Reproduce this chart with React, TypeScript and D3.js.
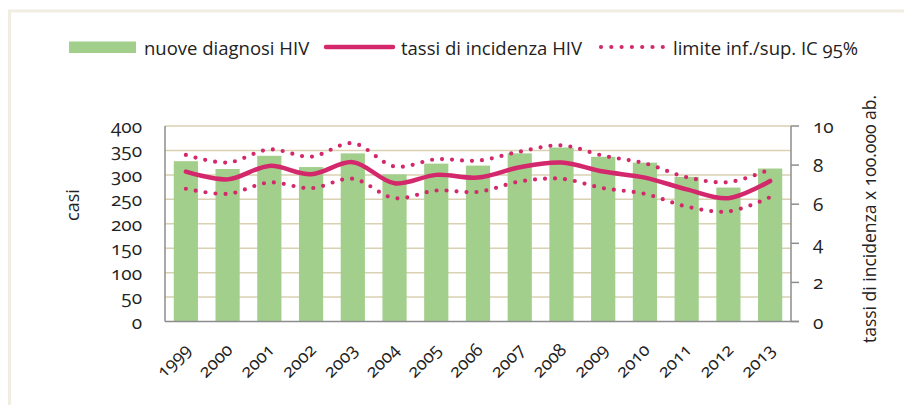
import React, { useEffect, useRef } from "react";
import * as d3 from "d3";

const years = ["1999", "2000", "2001", "2002", "2003", "2004", "2005", "2006", "2007", "2008", "2009", "2010", "2011", "2012", "2013"];
const newCases = [328, 312, 339, 316, 344, 301, 323, 319, 344, 356, 337, 325, 296, 274, 313];
const incidence = [7.67, 7.27, 7.96, 7.53, 8.15, 7.07, 7.5, 7.36, 7.89, 8.13, 7.67, 7.36, 6.76, 6.31, 7.19];
const upperCI = [8.52, 8.13, 8.8, 8.43, 9.12, 7.93, 8.3, 8.23, 8.69, 9.01, 8.48, 8.09, 7.38, 7.13, 7.78];
const lowerCI = [6.79, 6.53, 7.11, 6.82, 7.3, 6.31, 6.7, 6.63, 7.16, 7.3, 6.82, 6.53, 5.88, 5.63, 6.36];
const leftTicks = [0, 50, 100, 150, 200, 250, 300, 350, 400];
const rightTicks = [0, 2, 4, 6, 8, 10];

const GREEN = "#a2d08c";
const PINK = "#d3286b";
const GRID = "#d9d1b1";
const AXIS = "#8d8d8d";
const FONT = "'Open Sans', sans-serif";

export default function App() {
  const svgRef = useRef<SVGSVGElement>(null);

  useEffect(() => {
    if (!svgRef.current) return;
    const svg = d3.select(svgRef.current);
    svg.selectAll("*").remove();

    const left = 165;
    const right = 791;
    const top = 126;
    const bottom = 321.5;

    // outer frame
    svg
      .append("path")
      .attr("d", `M9.5,405 V11 H904`)
      .attr("fill", "none")
      .attr("stroke", "#f1ede2")
      .attr("stroke-width", 3);

    const x = d3.scaleBand().domain(years).range([left, right]).paddingInner(0.42).paddingOuter(0.21);
    const yL = d3.scaleLinear().domain([0, 400]).range([bottom, top]);
    const yR = d3.scaleLinear().domain([0, 10]).range([bottom, top]);
    const cx = (i: number) => (x(years[i]) as number) + x.bandwidth() / 2;

    // grid lines
    svg
      .append("g")
      .selectAll("line")
      .data(leftTicks.filter((d) => d > 0))
      .enter()
      .append("line")
      .attr("x1", left)
      .attr("x2", right)
      .attr("y1", (d) => yL(d))
      .attr("y2", (d) => yL(d))
      .attr("stroke", GRID)
      .attr("stroke-width", 1.5);

    // bars
    svg
      .append("g")
      .selectAll("rect")
      .data(newCases)
      .enter()
      .append("rect")
      .attr("x", (_, i) => x(years[i]) as number)
      .attr("width", x.bandwidth())
      .attr("y", (d) => yL(d))
      .attr("height", (d) => bottom - yL(d))
      .attr("fill", GREEN);

    // axes lines
    svg.append("line").attr("x1", left).attr("x2", left).attr("y1", top).attr("y2", bottom).attr("stroke", AXIS).attr("stroke-width", 1.5);
    svg.append("line").attr("x1", right).attr("x2", right).attr("y1", top).attr("y2", bottom).attr("stroke", AXIS).attr("stroke-width", 1.5);
    svg.append("line").attr("x1", left).attr("x2", right + 8).attr("y1", bottom).attr("y2", bottom).attr("stroke", AXIS).attr("stroke-width", 1.5);

    // right ticks
    svg
      .append("g")
      .selectAll("line")
      .data(rightTicks)
      .enter()
      .append("line")
      .attr("x1", right)
      .attr("x2", right + 8)
      .attr("y1", (d) => yR(d))
      .attr("y2", (d) => yR(d))
      .attr("stroke", AXIS)
      .attr("stroke-width", 1.5);

    // lines
    const line = d3
      .line<number>()
      .x((_, i) => cx(i))
      .y((d) => yR(d))
      .curve(d3.curveCatmullRom.alpha(0.5));

    [upperCI, lowerCI].forEach((s) => {
      svg
        .append("path")
        .datum(s)
        .attr("d", line)
        .attr("fill", "none")
        .attr("stroke", PINK)
        .attr("stroke-width", 4.2)
        .attr("stroke-linecap", "round")
        .attr("stroke-dasharray", "0 10");
    });

    svg
      .append("path")
      .datum(incidence)
      .attr("d", line)
      .attr("fill", "none")
      .attr("stroke", PINK)
      .attr("stroke-width", 4.5)
      .attr("stroke-linecap", "round");

    // tick labels
    const tickText = (sel: d3.Selection<SVGTextElement, number, SVGGElement, unknown>) =>
      sel
        .attr("font-family", FONT)
        .attr("font-size", 19)
        .attr("fill", "#222")
        .style("font-variant-numeric", "oldstyle-nums")
        .attr("dominant-baseline", "central")
        .text((d) => String(d));

    svg
      .append("g")
      .selectAll("text")
      .data(leftTicks)
      .enter()
      .append("text")
      .attr("x", 142)
      .attr("y", (d) => yL(d))
      .attr("text-anchor", "end")
      .call(tickText);

    svg
      .append("g")
      .selectAll("text")
      .data(rightTicks)
      .enter()
      .append("text")
      .attr("x", 813)
      .attr("y", (d) => yR(d))
      .attr("text-anchor", "start")
      .call(tickText);

    // x labels
    svg
      .append("g")
      .selectAll("text")
      .data(years)
      .enter()
      .append("text")
      .attr("transform", (_, i) => `translate(${cx(i) + 6},${351}) rotate(-45)`)
      .attr("text-anchor", "end")
      .attr("font-family", FONT)
      .attr("font-size", 18)
      .attr("fill", "#222")
      .style("font-variant-numeric", "oldstyle-nums")
      .text((d) => d);

    // axis titles
    svg
      .append("text")
      .attr("transform", `translate(72,205) rotate(-90)`)
      .attr("text-anchor", "middle")
      .attr("dominant-baseline", "central")
      .attr("font-family", FONT)
      .attr("font-size", 18)
      .attr("fill", "#222")
      .text("casi");

    svg
      .append("text")
      .attr("transform", `translate(869,219) rotate(-90)`)
      .attr("text-anchor", "middle")
      .attr("dominant-baseline", "central")
      .attr("font-family", FONT)
      .attr("font-size", 17.5)
      .attr("fill", "#222")
      .style("font-variant-numeric", "oldstyle-nums")
      .text("tassi di incidenza x 100.000 ab.");

    // legend
    const legend = svg.append("g").attr("font-family", FONT).attr("font-size", 18.5).attr("fill", "#222");
    legend.append("rect").attr("x", 69).attr("y", 41.5).attr("width", 67).attr("height", 11.5).attr("fill", GREEN);
    legend.append("text").attr("x", 144).attr("y", 47).attr("dominant-baseline", "central").text("nuove diagnosi HIV");
    legend.append("line").attr("x1", 326).attr("x2", 393).attr("y1", 47).attr("y2", 47).attr("stroke", PINK).attr("stroke-width", 4.5).attr("stroke-linecap", "round");
    legend.append("text").attr("x", 401).attr("y", 47).attr("dominant-baseline", "central").text("tassi di incidenza HIV");
    legend
      .append("line")
      .attr("x1", 601)
      .attr("x2", 663)
      .attr("y1", 47)
      .attr("y2", 47)
      .attr("stroke", PINK)
      .attr("stroke-width", 4.2)
      .attr("stroke-linecap", "round")
      .attr("stroke-dasharray", "0 10.3");
    legend
      .append("text")
      .attr("x", 673)
      .attr("y", 47)
      .attr("dominant-baseline", "central")
      .style("font-variant-numeric", "oldstyle-nums")
      .text("limite inf./sup. IC 95%");
  }, []);

  return (
    <div style={{ position: "absolute", left: 0, top: 0 }}>
      <svg ref={svgRef} width={904} height={405} style={{ display: "block", background: "#fff" }}></svg>
    </div>
  );
}
